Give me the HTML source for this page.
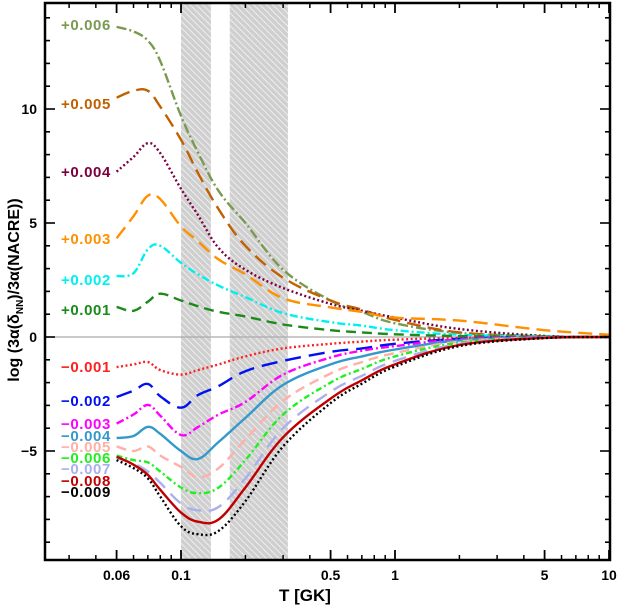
<!DOCTYPE html>
<html><head><meta charset="utf-8"><style>
body{margin:0;background:#fff}
svg{display:block;font-family:"Liberation Sans",sans-serif;font-weight:bold}
</style></head><body>
<svg id="chart" width="619" height="609" viewBox="0 0 619 609">
<defs>
<pattern id="hatch" width="4.5" height="4.5" patternUnits="userSpaceOnUse" patternTransform="rotate(-45)">
<rect width="4.5" height="4.5" fill="#cfcfcf"/><line x1="0" y1="0" x2="0" y2="4.5" stroke="#f2f2f2" stroke-width="1.8"/>
</pattern>
</defs>
<g id="bands"></g>
<g id="grid0"></g>
<g id="series"></g>
<g id="labels"></g>
<g id="axes"></g>
<text x="305" y="601" text-anchor="middle" font-size="17">T [GK]</text>
<text transform="translate(19,290) rotate(-90)" text-anchor="middle" font-size="16">log (3α(δ<tspan font-size="10" dy="4">NN</tspan><tspan dy="-4">)/3α(NACRE))</tspan></text>
</svg>
<script>
const temps=[0.05,0.06,0.07,0.08,0.1,0.12,0.15,0.2,0.3,0.5,0.7,1,2,5,10];
const seriesNames=["+0.006","+0.005","+0.004","+0.003","+0.002","+0.001","-0.001","-0.002","-0.003","-0.004","-0.005","-0.006","-0.007","-0.008","-0.009"];
const sP6=[13.6,13.4,13.0,12.1,9.7,8.1,6.4,5.0,2.95,1.6,1.1,0.6,0.18,0.03,0];
const sP5=[10.5,10.8,10.8,10.1,8.65,7.2,5.6,4.0,2.6,1.6,1.2,0.75,0.2,0.03,0];
const sP4=[7.25,7.9,8.5,8.06,6.5,5.35,3.9,2.95,2.15,1.45,1.15,0.85,0.35,0.05,0];
const sP3=[4.33,5.3,6.2,6.05,4.85,4.2,3.4,2.75,1.7,1.3,1.1,0.85,0.72,0.3,0.1];
const sP2=[2.67,2.8,3.85,4.0,3.25,2.75,2.25,1.75,1.05,0.65,0.5,0.3,0.1,0.02,0];
const sP1=[1.32,1.15,1.55,1.9,1.6,1.35,1.1,0.9,0.55,0.3,0.2,0.12,0.04,0.01,0];
const sM1=[-1.32,-1.2,-1.1,-1.45,-1.65,-1.45,-1.2,-0.85,-0.5,-0.3,-0.2,-0.12,-0.04,-0.01,0];
const sM2=[-2.63,-2.35,-2.06,-2.6,-3.1,-2.55,-2.15,-1.5,-1.05,-0.65,-0.5,-0.3,-0.08,-0.01,0];
const sM3=[-3.8,-3.4,-2.98,-3.45,-4.3,-3.95,-3.4,-2.85,-1.65,-0.9,-0.6,-0.4,-0.1,-0.01,0];
const sM4=[-4.43,-4.34,-3.94,-4.25,-5.0,-5.35,-4.6,-3.55,-2.1,-1.2,-0.85,-0.55,-0.15,-0.02,0];
const sM5=[-4.8,-5.0,-4.8,-5.2,-5.7,-6.15,-5.75,-4.5,-2.8,-1.6,-1.1,-0.7,-0.2,-0.02,0];
const sM6=[-5.2,-5.4,-5.5,-5.9,-6.6,-6.85,-6.6,-5.4,-3.4,-2.0,-1.4,-0.85,-0.25,-0.03,0];
const sM7=[-5.3,-5.55,-5.9,-6.4,-7.3,-7.6,-7.45,-6.2,-4.0,-2.4,-1.7,-1.05,-0.3,-0.03,0];
const sM8=[-5.25,-5.6,-6.05,-6.7,-7.7,-8.1,-8.0,-6.6,-4.4,-2.7,-1.9,-1.2,-0.35,-0.04,0];
const sM9=[-5.4,-5.75,-6.2,-7.0,-8.3,-8.65,-8.5,-7.2,-4.8,-2.9,-2.05,-1.3,-0.4,-0.05,0];
const bandRanges=[[0.1,0.138],[0.169,0.316]];
const xTickVals=[0.05,0.1,0.5,1,5,10];
const xTickLabels=["0.06","0.1","0.5","1","5","10"];
const yTickVals=[-5,0,5,10];
const yTickLabels=["−5","0","5","10"];

const L=45,R=610,T=3,B=560;
const X=t=>181+214*Math.log10(t/0.1);
const Y=v=>337-22.8*v;
const NS="http://www.w3.org/2000/svg";
function mk(tag,attrs,parent){const e=document.createElementNS(NS,tag);for(const k in attrs)e.setAttribute(k,attrs[k]);parent.appendChild(e);return e;}
function smoothPath(P){
 let d='M'+P[0][0].toFixed(1)+','+P[0][1].toFixed(1);
 for(let i=0;i<P.length-1;i++){
  const p0=P[Math.max(0,i-1)],p1=P[i],p2=P[i+1],p3=P[Math.min(P.length-1,i+2)];
  const k=0.18;
  const c1=[p1[0]+(p2[0]-p0[0])*k,p1[1]+(p2[1]-p0[1])*k];
  const c2=[p2[0]-(p3[0]-p1[0])*k,p2[1]-(p3[1]-p1[1])*k];
  d+=' C'+c1[0].toFixed(1)+','+c1[1].toFixed(1)+' '+c2[0].toFixed(1)+','+c2[1].toFixed(1)+' '+p2[0].toFixed(1)+','+p2[1].toFixed(1);
 }
 return d;
}

const allSeries=[sP6,sP5,sP4,sP3,sP2,sP1,sM1,sM2,sM3,sM4,sM5,sM6,sM7,sM8,sM9];
const styles=[
["#7a9a50","10 3 2 3"],["#c06000","14 7"],["#7a0040","2 2.5"],["#ff9000","14 7"],["#00f0f0","8 3 2 3"],["#1a8a1a","10 6"],
["#ff2020","2 2.5"],["#0010f0","16 8"],["#ff00ff","8 3 2 3"],["#3399cc",""],["#ffb0a8","10 6"],["#20f020","6 3 2 3"],["#aab0ee","14 8"],["#c00000",""],["#000","2 2.5"]];
const labelY=[25,104,172,239,280,310,367,401,424,436,447,458,469,481,492];

const bands=document.getElementById('bands');
bandRanges.forEach((b,i)=>{
 const r=mk('rect',{x:X(b[0]),y:T,width:X(b[1])-X(b[0]),height:B-T,fill:'url(#hatch)'},bands);
 
 
});
const zl=mk('line',{x1:L,x2:R,y1:Y(0),y2:Y(0),stroke:'#aaa','stroke-width':1.2},document.getElementById('grid0'));



const sg=document.getElementById('series'), lg=document.getElementById('labels');
allSeries.forEach((s,i)=>{
 const P=s.map((v,j)=>[X(temps[j]),Y(v)]);
 const p=mk('path',{d:smoothPath(P),fill:'none',stroke:styles[i][0],'stroke-width':2.4,'stroke-dasharray':styles[i][1],'stroke-linejoin':'round'},sg);
 
 
 const t=mk('text',{x:61,y:labelY[i]+5,fill:styles[i][0],'font-size':15,'letter-spacing':0.6},lg);
 t.textContent=seriesNames[i].replace('-','−');
 
 
});

const ax=document.getElementById('axes');
mk('rect',{x:L,y:T,width:R-L,height:B-T,fill:'none',stroke:'#000','stroke-width':2.5},ax);
const minorX=[0.03,0.04,0.06,0.07,0.08,0.09,0.2,0.3,0.4,0.6,0.7,0.8,0.9,2,3,4,6,7,8,9];
minorX.forEach(t=>{const x=X(t);mk('line',{x1:x,x2:x,y1:B,y2:B-5,stroke:'#000','stroke-width':1.5},ax);mk('line',{x1:x,x2:x,y1:T,y2:T+5,stroke:'#000','stroke-width':1.5},ax);});
xTickVals.forEach((t,i)=>{const x=X(t);
 mk('line',{x1:x,x2:x,y1:B,y2:B-10,stroke:'#000','stroke-width':1.8},ax);mk('line',{x1:x,x2:x,y1:T,y2:T+10,stroke:'#000','stroke-width':1.8},ax);
 const tx=mk('text',{x:x,y:580,'text-anchor':'middle','font-size':14},ax);tx.textContent=xTickLabels[i];
 
 
});
for(let v=-9;v<=14;v++){const y=Y(v);const major=v%5===0;const len=major?10:5;
 mk('line',{x1:L,x2:L+len,y1:y,y2:y,stroke:'#000','stroke-width':1.6},ax);mk('line',{x1:R,x2:R-len,y1:y,y2:y,stroke:'#000','stroke-width':1.6},ax);}
yTickVals.forEach((v,i)=>{
 const ty=mk('text',{x:37,y:Y(v)+5,'text-anchor':'end','font-size':14},ax);ty.textContent=yTickLabels[i];
 
 
});
</script>
</body></html>
